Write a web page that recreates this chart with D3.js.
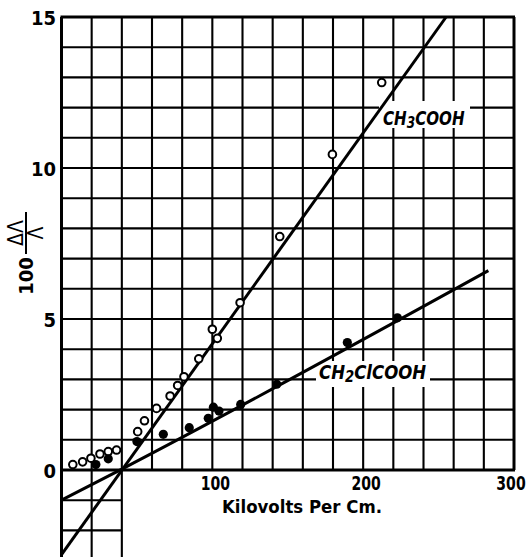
<!DOCTYPE html>
<html><head><meta charset="utf-8">
<script src="https://cdn.jsdelivr.net/npm/d3@7/dist/d3.min.js"></script>
<style>
html,body{margin:0;padding:0;background:#fff;}
svg{display:block;}
text{font-family:"DejaVu Sans Condensed","DejaVu Sans",sans-serif;font-stretch:condensed;fill:#000;}
</style></head>
<body><svg id="c" width="528" height="557"></svg>
<script>
// ---- data ----
const xTickValues = [100, 200, 300];
const yTickValues = [0, 5, 10, 15];
const xTitle = "Kilovolts Per Cm.";
// CH3COOH (open circles): [kV/cm, 100·ΔΛ/Λ]
const ch3Points = [
  [7.5,0.18],[14,0.27],[19.5,0.39],[25.5,0.53],[31,0.61],[36.5,0.66],
  [50.5,1.27],[55,1.63],[63,2.04],[72,2.45],[77,2.80],[81.2,3.09],
  [91,3.68],[100,4.66],[103.3,4.36],[118.4,5.54],[144.7,7.73],
  [179.6,10.45],[212.3,12.83]
];
// CH2ClCOOH (filled circles)
const ch2ClPoints = [
  [22.8,0.18],[31,0.37],[50,0.94],[67.5,1.18],[84.7,1.40],[97.3,1.71],
  [100.7,2.08],[104.4,1.95],[118.8,2.17],[142.7,2.84],[189.5,4.22],[222.7,5.04]
];
const ch3Fit = [[0,-2.8],[255,15]];
const ch2ClFit = [[0,-1.0],[40,0.03],[283,6.6]];

// ---- layout ----
const W = 528;
const svg = d3.select("#c");
const x = d3.scaleLinear().domain([0,300]).range([61.5,514]);
const y = d3.scaleLinear().domain([0,15]).range([470,17]);
const yBottom = -2.95;

const grid = svg.append("g").attr("stroke","#000").attr("stroke-width",2.1).attr("fill","none");
d3.range(0,301,20).forEach(v=>{
  const lo = v<=40 ? yBottom : 0;
  grid.append("line").attr("x1",x(v)).attr("x2",x(v)).attr("y1",y(lo)).attr("y2",y(15))
    .attr("stroke-width", (v===0||v===300)?3:2.1);
});
d3.range(0,16,1).forEach(v=>{
  grid.append("line").attr("x1",x(0)-1).attr("x2",x(300)+1).attr("y1",y(v)).attr("y2",y(v))
    .attr("stroke-width",(v===0||v===15)?3:2.1);
});
[-1,-2].forEach(v=>{
  grid.append("line").attr("x1",x(0)).attr("x2",x(40)).attr("y1",y(v)).attr("y2",y(v));
});

// label backgrounds (interrupt grid)
svg.append("rect").attr("x",379).attr("y",101).attr("width",91).attr("height",27).attr("fill","#fff");
svg.append("rect").attr("x",316).attr("y",361).attr("width",114).attr("height",26).attr("fill","#fff");

// fit lines
const line = d3.line().x(d=>x(d[0])).y(d=>y(d[1]));
svg.append("path").datum(ch3Fit).attr("d",line).attr("fill","none").attr("stroke","#000").attr("stroke-width",3);
svg.append("path").datum(ch2ClFit).attr("d",d3.line().x(d=>x(d[0])).y(d=>y(d[1])).curve(d3.curveMonotoneX))
  .attr("fill","none").attr("stroke","#000").attr("stroke-width",3);

// points
svg.append("g").selectAll("circle").data(ch3Points).join("circle")
  .attr("cx",d=>x(d[0])).attr("cy",d=>y(d[1])).attr("r",3.8)
  .attr("fill","#fff").attr("stroke","#000").attr("stroke-width",2);
svg.append("g").selectAll("circle").data(ch2ClPoints).join("circle")
  .attr("cx",d=>x(d[0])).attr("cy",d=>y(d[1])).attr("r",4.6)
  .attr("fill","#000");

// tick labels
svg.append("g").selectAll("text").data(yTickValues).join("text")
  .attr("x",56).attr("y",d=>y(d)+8).attr("text-anchor","end")
  .attr("font-size",20).attr("font-weight","bold").text(d=>d);
svg.append("g").selectAll("g").data(xTickValues).join("g")
  .attr("transform",d=>`translate(${Math.min(x(d)+3, W-17)},490) scale(0.78,1)`)
  .append("text").attr("text-anchor","middle")
  .attr("font-size",20).attr("font-weight","bold").text(d=>d);
svg.append("text").attr("x",302).attr("y",513).attr("text-anchor","middle")
  .attr("font-size",18.5).attr("font-weight","bold")
  .attr("textLength",160).attr("lengthAdjust","spacingAndGlyphs").text(xTitle);

// series labels (horizontally condensed via scale)
const l1 = svg.append("g").attr("transform","translate(383,125) scale(0.84,1)")
  .append("text").attr("font-size",20).attr("font-style","italic").attr("font-weight","bold");
l1.append("tspan").text("CH");
l1.append("tspan").attr("font-size",16).attr("dy",3).text("3");
l1.append("tspan").attr("dy",-3).text("COOH");
const l2 = svg.append("g").attr("transform","translate(319,379) scale(0.92,1)")
  .append("text").attr("font-size",20).attr("font-style","italic").attr("font-weight","bold");
l2.append("tspan").text("CH");
l2.append("tspan").attr("font-size",16).attr("dy",3).text("2");
l2.append("tspan").attr("dy",-3).text("ClCOOH");

// y axis label: 100 ΔΛ/Λ (rotated)
const yl = svg.append("g").attr("transform","translate(26,250) rotate(-90)");
yl.append("text").attr("x",-26).attr("y",7).attr("text-anchor","middle").attr("font-size",20).attr("font-weight","bold").text("100");
yl.append("line").attr("x1",-4).attr("x2",38).attr("y1",0).attr("y2",0).attr("stroke","#000").attr("stroke-width",2);
yl.append("text").attr("x",17).attr("y",-3).attr("text-anchor","middle").attr("font-size",21).text("ΔΛ");
yl.append("text").attr("x",17).attr("y",17).attr("text-anchor","middle").attr("font-size",21).text("Λ");
</script></body></html>
